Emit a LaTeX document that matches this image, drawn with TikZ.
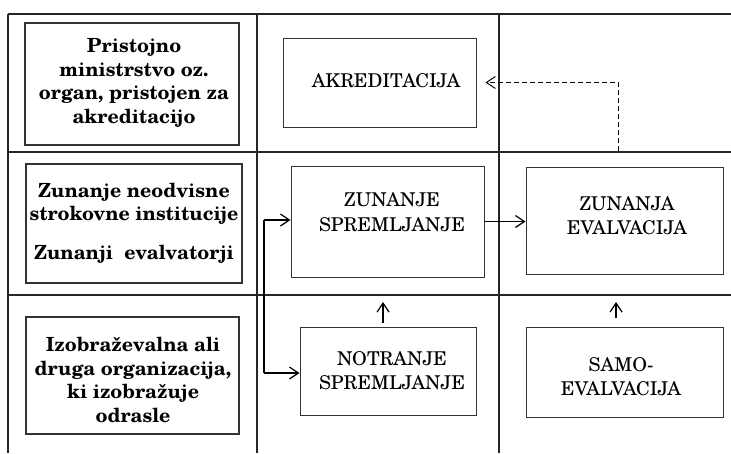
\documentclass[tikz,border=0pt]{standalone}
\usepackage{fontspec}
\setmainfont{texgyreschola}[Extension=.otf,UprightFont=*-regular,BoldFont=*-bold]
\usetikzlibrary{arrows.meta,calc}
\begin{document}
\begin{tikzpicture}[x=1pt,y=-1pt,
  gridline/.style={line width=1.2pt, black!85},
  thickgrid/.style={line width=1.7pt, black!85},
  box/.style={draw=black!80, line width=1pt, inner sep=0pt, rectangle},
  lbox/.style={box, line width=1.3pt},
  btxt/.style={font=\fontsize{19.5}{23.5}\selectfont\bfseries, align=center, inner sep=0pt},
  ctxt/.style={font=\fontsize{19}{24.5}\selectfont, align=center, inner sep=0pt},
  arr/.style={-{Straight Barb[length=9pt,width=12pt]}, line width=1.2pt},
  darr/.style={-{Straight Barb[length=9pt,width=12pt]}, line width=1pt, dash pattern=on 5pt off 3pt}
]
\useasboundingbox (0,0) rectangle (731,453);
% grid
\coordinate (g1a) at (8,14);   \coordinate (g1b) at (731,14);
\coordinate (g2a) at (8,152);  \coordinate (g2b) at (731,152);
\coordinate (g3a) at (8,295);  \coordinate (g3b) at (731,295);
\coordinate (v1a) at (8,14);   \coordinate (v1b) at (8,453);
\coordinate (v2a) at (257,14); \coordinate (v2b) at (257,453);
\coordinate (v3a) at (499,15); \coordinate (v3b) at (499,453);
\draw[gridline] (g1a) -- (g1b);
\draw[gridline] (g2a) -- (g2b);
\draw[gridline] (g3a) -- (g3b);
\draw[thickgrid] (v1a) -- (v1b);
\draw[thickgrid] (v2a) -- (v2b);
\draw[gridline] (v3a) -- (v3b);

% left column boxes
\node[lbox, minimum width=214pt, minimum height=122pt] (b1) at (132,84) {};
\node[btxt] (t1) at (134,83) {Pristojno\\ministrstvo oz.\\organ, pristojen za\\akreditacijo};
\node[lbox, minimum width=216pt, minimum height=119pt] (b2) at (134,223.5) {};
\node[btxt] (t2) at (134,223) {Zunanje neodvisne\\strokovne institucije\\[15pt]Zunanji\ \ evalvatorji};
\node[lbox, minimum width=213pt, minimum height=117pt] (b3) at (132.5,375.5) {};
\node[btxt] (t3) at (133,380) {Izobraževalna ali\\druga organizacija,\\ki izobražuje\\odrasle};

% process boxes
\node[box, minimum width=193pt, minimum height=89pt] (akr) at (379.5,82.5) {};
\node[ctxt] (takr) at (386,81) {AKREDITACIJA};
\node[box, minimum width=193pt, minimum height=111pt] (zs) at (387.5,221.5) {};
\node[ctxt] (tzs) at (392,212) {ZUNANJE\\SPREMLJANJE};
\node[box, minimum width=197pt, minimum height=107pt] (ze) at (624.5,220.5) {};
\node[ctxt] (tze) at (627,215.5) {ZUNANJA\\EVALVACIJA};
\node[box, minimum width=176pt, minimum height=88pt] (ns) at (388,371) {};
\node[ctxt] (tns) at (392,370.5) {NOTRANJE\\SPREMLJANJE};
\node[box, minimum width=197pt, minimum height=90pt] (se) at (624.5,372) {};
\node[ctxt] (tse) at (621,376.5) {SAMO-\\EVALVACIJA};

% connectors
\coordinate (dstart) at (618,151);
\draw[darr, shorten >=9pt] (dstart) |- (akr.east);
\draw[arr] (zs.east) -- (zs.east -| ze.west);
\coordinate (lt) at (264,220);
\coordinate (lb) at (264,373);
\draw[line width=1.3pt] (lt) -- (lb);
\draw[arr] (lt) -- (lt -| zs.west);
\draw[arr] (lb) -- (lb -| ns.west);
\coordinate (nsup1) at (383,323); \coordinate (nsup2) at (383,302);
\draw[arr] (nsup1) -- (nsup2);
\coordinate (seup1) at (616,318); \coordinate (seup2) at (616,302);
\draw[arr] (seup1) -- (seup2);
\end{tikzpicture}
\end{document}
